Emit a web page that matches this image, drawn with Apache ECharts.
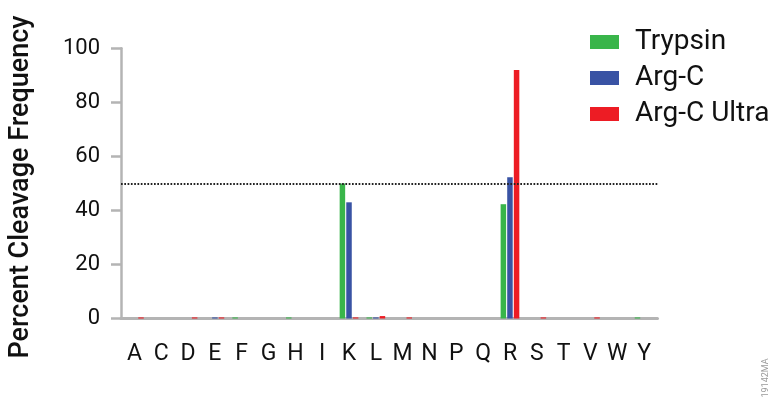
<!DOCTYPE html>
<html>
<head>
<meta charset="utf-8">
<script src="https://cdn.jsdelivr.net/npm/echarts@6/dist/echarts.min.js"></script>
<style>
html,body{margin:0;padding:0;background:#fff;}
#c{width:769px;height:398px;}
</style>
</head>
<body>
<div id="c"></div>
<script>
const categories = ['A','C','D','E','F','G','H','I','K','L','M','N','P','Q','R','S','T','V','W','Y'];
const trypsin   = [0,0,0,0,0.4,0,0.4,0,50,0.4,0,0,0,0,42.3,0,0,0,0,0.4];
const argC      = [0,0,0,0.4,0,0,0,0,43,0.4,0,0,0,0,52.3,0,0,0,0,0];
const argCUltra = [0.4,0,0.4,0.4,0,0,0,0,0.4,0.9,0.4,0,0,0,92,0.4,0,0.4,0,0];
const yTicks = [0,20,40,60,80,100];
const threshold = 50;
const yTitle = 'Percent Cleavage Frequency';

const font = 'Roboto, "Noto Sans", sans-serif';
const axisGray = '#b4b4b4';
const chart = echarts.init(document.getElementById('c'));
chart.setOption({
  animation: false,
  textStyle: {fontFamily: font},
  grid: {left: 121, right: 111.5, top: 48.3, bottom: 79.5, containLabel: false},
  legend: {
    orient: 'vertical', left: 585, top: 23,
    icon: 'rect', itemWidth: 29, itemHeight: 14, itemGap: 8,
    textStyle: {fontSize: 28, color: '#111', fontFamily: font, padding: [0,0,0,11]},
    data: ['Trypsin','Arg-C','Arg-C Ultra']
  },
  xAxis: {
    type: 'category', data: categories,
    axisLine: {lineStyle: {color: axisGray, width: 3}},
    axisTick: {alignWithLabel: true, length: 12, lineStyle: {color: axisGray, width: 2.5}},
    axisLabel: {interval: 0, fontSize: 23, color: '#111', margin: 24, fontFamily: font}
  },
  yAxis: {
    type: 'value', min: yTicks[0], max: yTicks[yTicks.length-1], interval: 20,
    axisLine: {show: true, lineStyle: {color: axisGray, width: 2.5}},
    axisTick: {show: true, length: 10, lineStyle: {color: axisGray, width: 2.5}},
    splitLine: {show: false},
    axisLabel: {fontSize: 22, color: '#111', margin: 21, fontFamily: font}
  },
  series: [
    {name: 'Trypsin', type: 'bar', data: trypsin, barWidth: 5.5, barGap: '20%', itemStyle: {color: '#39b54a'},
     markLine: {silent: true, symbol: 'none', label: {show: false},
       lineStyle: {color: '#222', type: [1.7,1.6], width: 1.8},
       data: [{yAxis: threshold}]}},
    {name: 'Arg-C', type: 'bar', data: argC, barWidth: 5.5, barGap: '20%', itemStyle: {color: '#3953a4'}},
    {name: 'Arg-C Ultra', type: 'bar', data: argCUltra, barWidth: 5.5, barGap: '20%', itemStyle: {color: '#ed1c24'}}
  ],
  graphic: [{
    type: 'text', x: 21, y: 187, rotation: Math.PI/2,
    style: {text: yTitle, fontSize: 27, fontWeight: 500, fill: '#111', fontFamily: font, align: 'center', verticalAlign: 'middle'}
  },{
    type: 'text', x: 766, y: 378, rotation: Math.PI/2,
    style: {text: '19142MA', fontSize: 9, fill: '#9a9a9a', fontFamily: font, align: 'center', verticalAlign: 'middle'}
  }]
});
</script>
</body>
</html>
